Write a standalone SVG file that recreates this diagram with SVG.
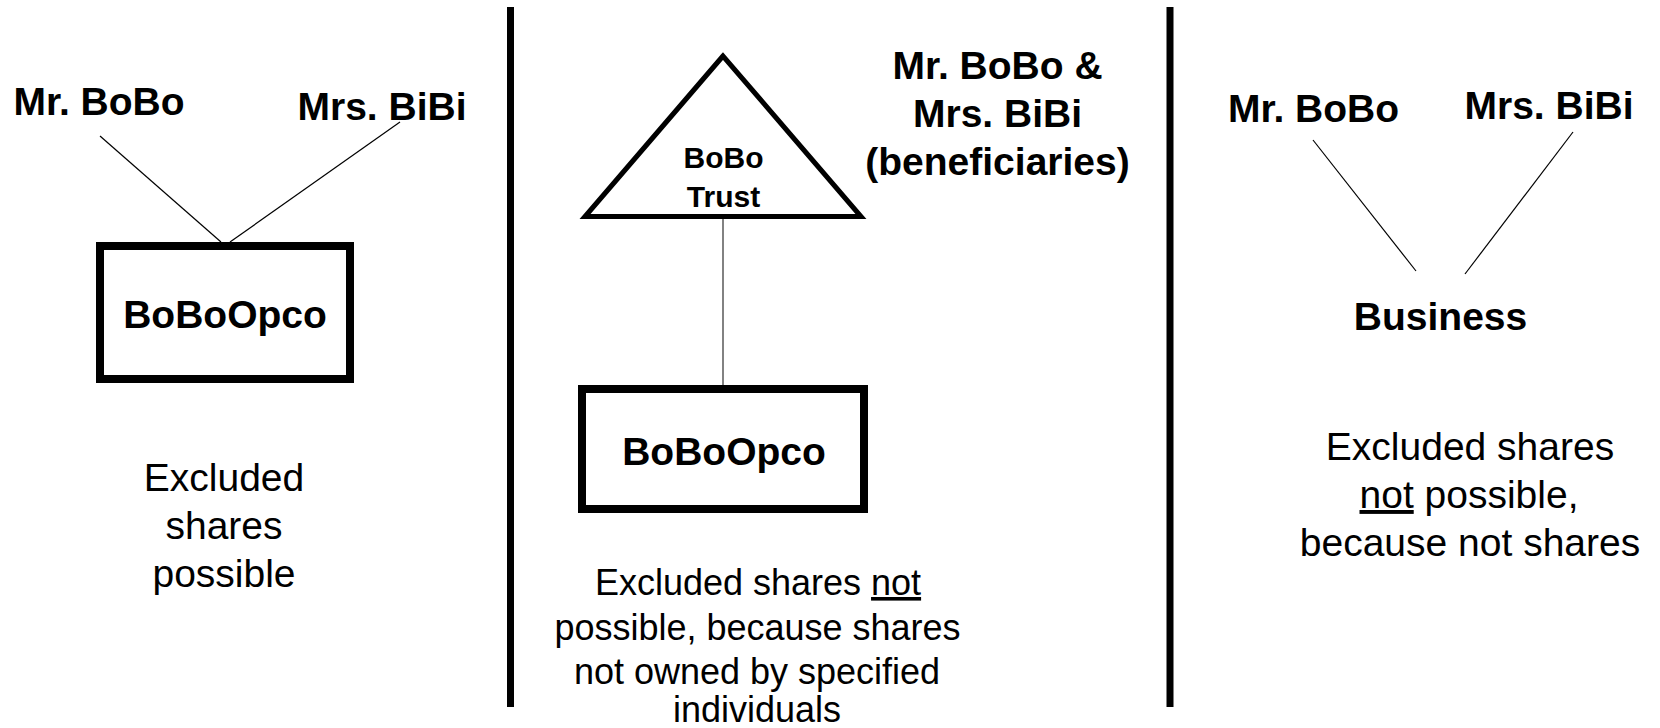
<svg xmlns="http://www.w3.org/2000/svg" width="1660" height="728" viewBox="0 0 1660 728">
  <style>
    text { font-family: "Liberation Sans", Arial, sans-serif; fill: #000; text-anchor: middle; }
    .name { font-size: 39px; font-weight: bold; }
    .trust { font-size: 30px; font-weight: bold; }
    .note { font-size: 39px; }
    .note-sm { font-size: 36px; }
    .u { text-decoration: underline; }
    .box { fill: #fff; stroke: #000; stroke-width: 8; }
    .tri { fill: #fff; stroke: #000; stroke-width: 5; stroke-linejoin: miter; }
    .link { stroke: #000; stroke-width: 1.2; fill: none; }
    .link-grey { stroke: #595959; stroke-width: 1.5; fill: none; }
    .divider { stroke: #000; stroke-width: 7; }
  </style>

  <rect width="1660" height="728" fill="#fff"/>

  <!-- panel dividers -->
  <g id="dividers">
    <line class="divider" x1="510.5" y1="7" x2="510.5" y2="707"/>
    <line class="divider" x1="1170" y1="7" x2="1170" y2="707"/>
  </g>

  <!-- ownership lines -->
  <g id="connectors">
    <line class="link" x1="100" y1="136" x2="221" y2="242"/>
    <line class="link" x1="400" y1="122" x2="230" y2="242"/>
    <line class="link-grey" x1="723" y1="219" x2="723" y2="385"/>
    <line class="link" x1="1313" y1="140" x2="1416" y2="271"/>
    <line class="link" x1="1573" y1="132" x2="1465" y2="274"/>
  </g>

  <!-- left panel: direct ownership -->
  <g id="left-mr-bobo"><text class="name" x="99" y="115">Mr. BoBo</text></g>
  <g id="left-mrs-bibi"><text class="name" x="382" y="120">Mrs. BiBi</text></g>
  <g id="left-opco">
    <rect class="box" x="100" y="246" width="250" height="133"/>
    <text class="name" x="225" y="328">BoBoOpco</text>
  </g>
  <g id="left-note">
    <text class="note" x="224" y="491">Excluded</text>
    <text class="note" x="224" y="539">shares</text>
    <text class="note" x="224" y="587">possible</text>
  </g>

  <!-- middle panel: ownership through a trust -->
  <g id="trust">
    <polygon class="tri" points="723,56 585,216.5 861,216.5"/>
    <text class="trust" x="723.5" y="168">BoBo</text>
    <text class="trust" x="723.5" y="207">Trust</text>
  </g>
  <g id="beneficiaries">
    <text class="name" x="997.5" y="79">Mr. BoBo &amp;</text>
    <text class="name" x="997.5" y="127">Mrs. BiBi</text>
    <text class="name" x="997.5" y="175">(beneficiaries)</text>
  </g>
  <g id="middle-opco">
    <rect class="box" x="582" y="389" width="282" height="120"/>
    <text class="name" x="724" y="465">BoBoOpco</text>
  </g>
  <g id="middle-note">
    <text class="note-sm" x="758" y="595">Excluded shares <tspan class="u">not</tspan></text>
    <text class="note-sm" x="757.5" y="640">possible, because shares</text>
    <text class="note-sm" x="757" y="684">not owned by specified</text>
    <text class="note-sm" x="757" y="722">individuals</text>
  </g>

  <!-- right panel: unincorporated business -->
  <g id="right-mr-bobo"><text class="name" x="1313.5" y="122">Mr. BoBo</text></g>
  <g id="right-mrs-bibi"><text class="name" x="1549" y="119">Mrs. BiBi</text></g>
  <g id="business"><text class="name" x="1440.5" y="330">Business</text></g>
  <g id="right-note">
    <text class="note" x="1470" y="460">Excluded shares</text>
    <text class="note" x="1469" y="508"><tspan class="u">not</tspan> possible,</text>
    <text class="note" x="1470" y="556">because not shares</text>
  </g>
</svg>
